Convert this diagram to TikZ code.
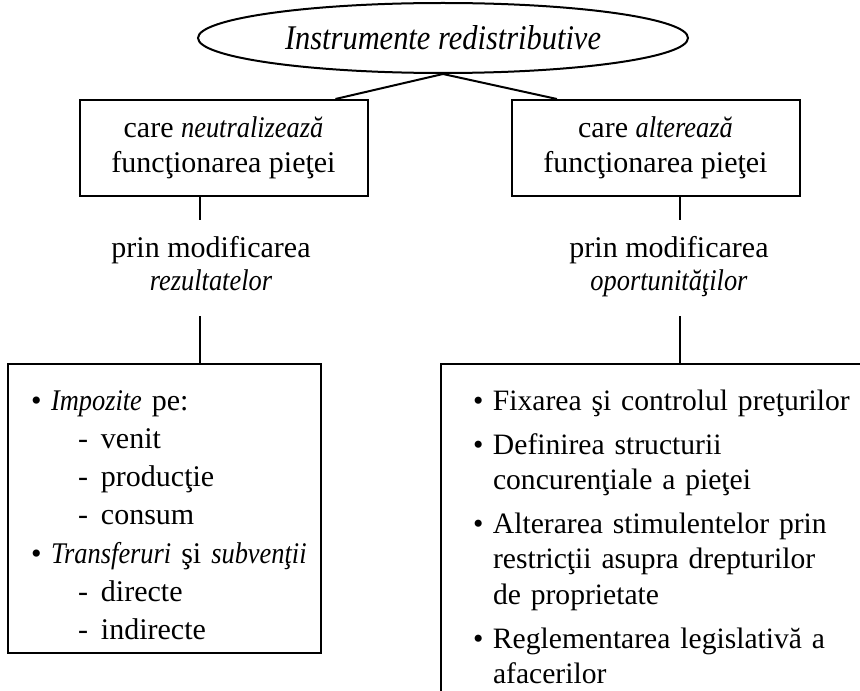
\documentclass[tikz,border=0pt]{standalone}
\usepackage{fontspec}
\setmainfont{Liberation Serif}[ItalicFeatures={FakeStretch=0.88}]
\usetikzlibrary{positioning,calc,shapes.geometric}

\tikzset{
  diagLine/.style={line width=1pt},
  rootEll/.style={ellipse, draw, line width=1pt, inner sep=0pt,
    minimum width=245pt, minimum height=35pt,
    font=\fontsize{17.3}{19}\selectfont\itshape},
  wayBox/.style={draw, line width=1pt, align=center, inner sep=0pt,
    minimum width=144pt, minimum height=48pt,
    font=\fontsize{15}{17.5}\selectfont},
  byText/.style={align=center, anchor=base, inner xsep=0pt, inner ysep=8pt,
    text height=27pt, text depth=5pt,
    font=\fontsize{15}{16.5}\selectfont},
  listBox/.style={draw, line width=1pt, align=left, anchor=north west,
    inner ysep=0pt, text height=23pt},
}

% bullet, dash and hanging indent for the lists
\newcommand{\bul}{\makebox[10pt][l]{\textbullet}}
\newcommand{\dsh}{\hspace*{23.5pt}\makebox[11.5pt][l]{-}}
\newcommand{\hang}{\hspace*{10pt}}

\begin{document}
\begin{tikzpicture}[x=0.5pt, y=-0.5pt]

% --- FRAME (860 x 690, right list box runs off the page) ---
\useasboundingbox (0,0) rectangle (860,690);
\clip (0,0) rectangle (860,690);

% --- TOP ---
\node[rootEll] (instr) at (443,38) {Instrumente redistributive};

% --- TWO WAYS ---
\node[wayBox] (neutr) at (223.5,148)
  {care \textit{neutralizează}\\funcţionarea pieţei};
\node[wayBox] (alter) at (655.5,148)
  {care \textit{alterează}\\funcţionarea pieţei};

\draw[diagLine] (instr.south) -- ($(neutr.north west)!0.886!(neutr.north east)$);
\draw[diagLine] (instr.south) -- ($(alter.north west)!0.16!(alter.north east)$);

% --- "prin modificarea ..." (base = last line) ---
\node[byText] (prinRez) at (211,290) {prin modificarea\\\textit{rezultatelor}};
\node[byText] (prinOpo) at (669,290) {prin modificarea\\\textit{oportunităţilor}};

% --- LISTS ---
\node[listBox, inner xsep=11.5pt, text width=133.5pt, text depth=121.5pt,
  font=\fontsize{15}{19.15}\selectfont] (listRez) at (7,363)
  {\bul\textit{Impozite} pe:\\
   \dsh venit\\
   \dsh producţie\\
   \dsh consum\\
   \bul\mbox{\textit{Transferuri} şi \textit{subvenţii}}\\
   \dsh directe\\
   \dsh indirecte};

\node[listBox, inner xsep=16pt, text width=220pt, text depth=200pt,
  font=\fontsize{14.8}{17.7}\selectfont] (listOpo) at (440,363)
  {\bul Fixarea şi controlul preţurilor\\[4.3pt]
   \bul Definirea structurii\\
   \hang concurenţiale a pieţei\\[4.3pt]
   \bul Alterarea stimulentelor prin\\
   \hang restricţii asupra drepturilor\\
   \hang de proprietate\\[4.3pt]
   \bul Reglementarea legislativă a\\
   \hang afacerilor};

% --- STEMS ---
\coordinate (stemL) at (200,0);
\coordinate (stemR) at (680,0);
\draw[diagLine] (neutr.south -| stemL) -- (prinRez.north -| stemL);
\draw[diagLine] (prinRez.south -| stemL) -- (listRez.north -| stemL);
\draw[diagLine] (alter.south -| stemR) -- (prinOpo.north -| stemR);
\draw[diagLine] (prinOpo.south -| stemR) -- (listOpo.north -| stemR);

\end{tikzpicture}
\end{document}
